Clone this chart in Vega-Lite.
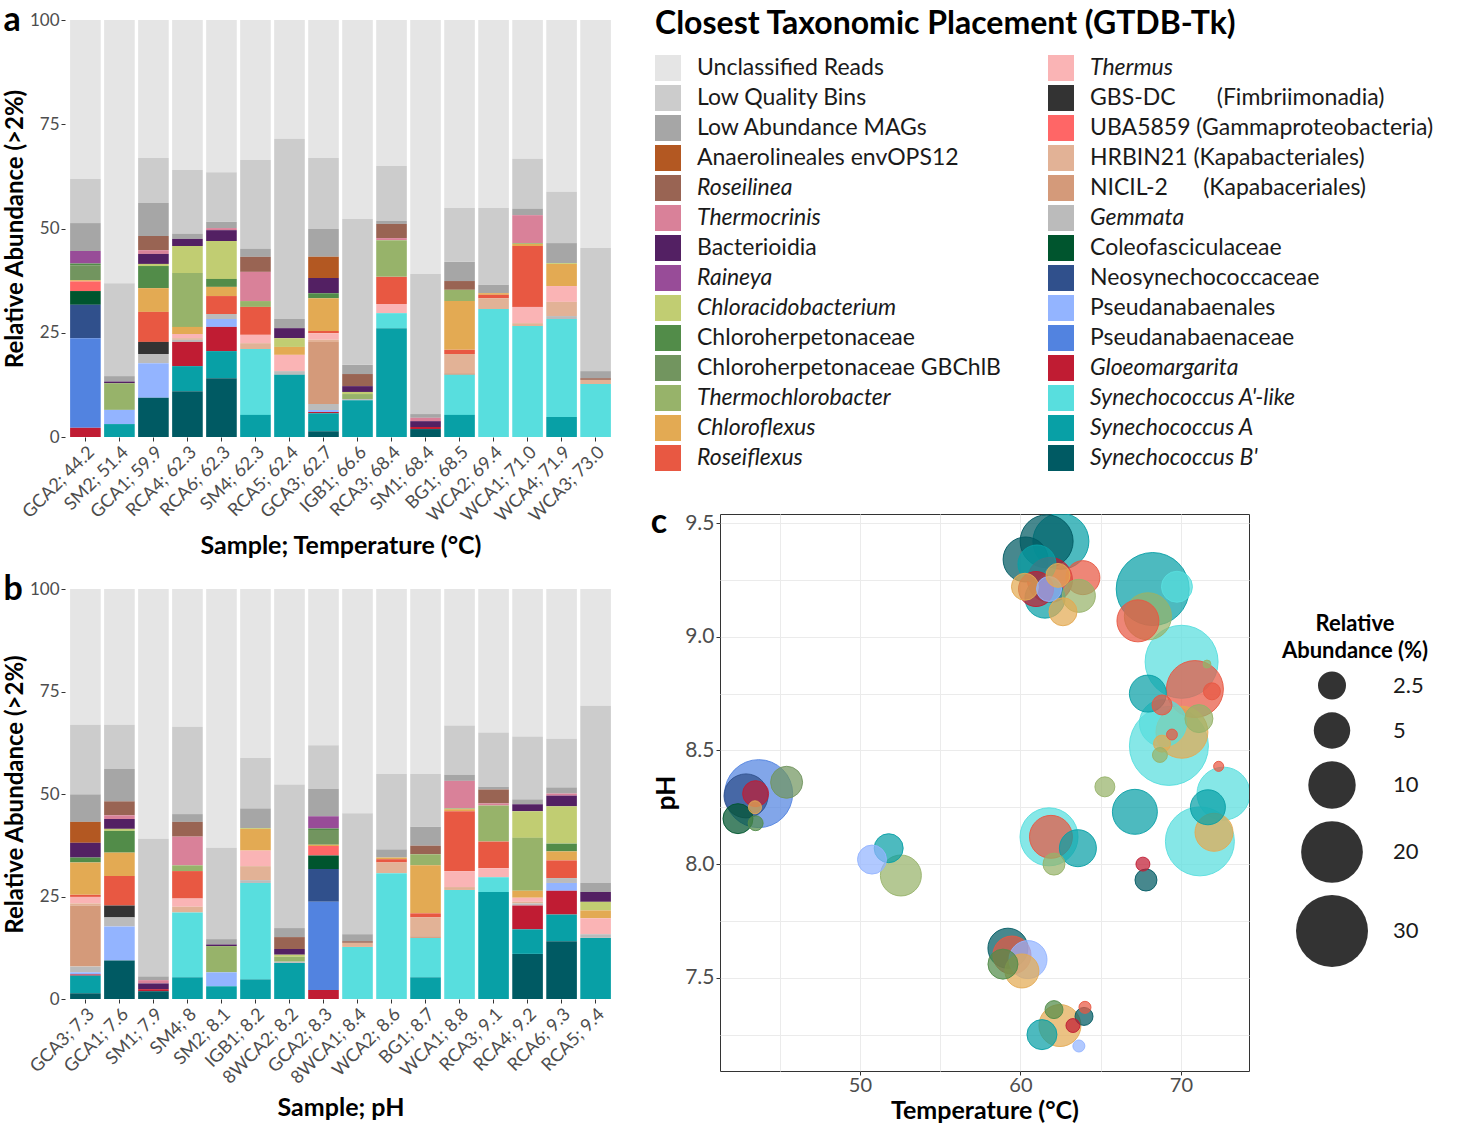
{
  "$schema": "https://vega.github.io/schema/vega-lite/v6.json",
  "padding": {"left": 3, "top": 4, "right": 5, "bottom": 0},
  "background": "white",
  "config": {
    "font": "Lato",
    "view": {"stroke": null},
    "axis": {"labelColor": "#4d4d4d", "tickColor": "#333333", "domain": false, "grid": false, "titleFontWeight": "bold", "titleColor": "#000000", "labelFont": "Lato", "titleFont": "Lato"},
    "title": {"font": "Lato", "color": "#000000"},
    "legend": {"titleFont": "Lato", "labelFont": "Lato"}
  },
  "datasets": {
    "taxa": [
      {"c": "UN", "t": "Unclassified Reads", "k": 1},
      {"c": "LQ", "t": "Low Quality Bins", "k": 2},
      {"c": "LA", "t": "Low Abundance MAGs", "k": 3},
      {"c": "AN", "t": "Anaerolineales envOPS12", "k": 4},
      {"c": "RL", "t": "Roseilinea", "k": 5},
      {"c": "TC", "t": "Thermocrinis", "k": 6},
      {"c": "BA", "t": "Bacterioidia", "k": 7},
      {"c": "RA", "t": "Raineya", "k": 8},
      {"c": "CA", "t": "Chloracidobacterium", "k": 9},
      {"c": "CH", "t": "Chloroherpetonaceae", "k": 10},
      {"c": "CG", "t": "Chloroherpetonaceae GBChlB", "k": 11},
      {"c": "TB", "t": "Thermochlorobacter", "k": 12},
      {"c": "CF", "t": "Chloroflexus", "k": 13},
      {"c": "RF", "t": "Roseiflexus", "k": 14},
      {"c": "TH", "t": "Thermus", "k": 15},
      {"c": "GB", "t": "GBS-DC\u00a0\u00a0\u00a0\u00a0\u00a0\u00a0\u00a0(Fimbriimonadia)", "k": 16},
      {"c": "UB", "t": "UBA5859 (Gammaproteobacteria)", "k": 17},
      {"c": "HR", "t": "HRBIN21 (Kapabacteriales)", "k": 18},
      {"c": "NI", "t": "NICIL-2\u00a0\u00a0\u00a0\u00a0\u00a0\u00a0(Kapabaceriales)", "k": 19},
      {"c": "GE", "t": "Gemmata", "k": 20},
      {"c": "CO", "t": "Coleofasciculaceae", "k": 21},
      {"c": "NE", "t": "Neosynechococcaceae", "k": 22},
      {"c": "PL", "t": "Pseudanabaenales", "k": 23},
      {"c": "PC", "t": "Pseudanabaenaceae", "k": 24},
      {"c": "GL", "t": "Gloeomargarita", "k": 25},
      {"c": "SAL", "t": "Synechococcus A'-like", "k": 26},
      {"c": "SA", "t": "Synechococcus A", "k": 27},
      {"c": "SB", "t": "Synechococcus B'", "k": 28}
    ],
    "samples": [
      {"a": "GCA2; 44.2", "b": "GCA2; 8.3", "GL": 2.2, "PC": 21.5, "NE": 8.0, "CO": 3.3, "UB": 2.3, "CF": 0.3, "CG": 3.6, "CH": 0.4, "RA": 3.0, "LA": 6.7, "LQ": 10.6, "UN": 38.1},
      {"a": "SM2; 51.4", "b": "SM2; 8.1", "SA": 3.1, "PL": 3.4, "TB": 6.4, "BA": 0.4, "LA": 1.3, "LQ": 22.3, "UN": 63.1},
      {"a": "GCA1; 59.9", "b": "GCA1; 7.6", "SB": 9.4, "PL": 8.3, "GE": 2.2, "GB": 2.9, "RF": 7.2, "CF": 5.7, "CH": 5.3, "CA": 0.5, "BA": 2.4, "TC": 0.9, "RL": 3.4, "LA": 7.9, "LQ": 10.8, "UN": 33.1},
      {"a": "RCA4; 62.3", "b": "RCA4; 9.2", "SB": 11.0, "SA": 6.0, "GL": 5.8, "GE": 0.5, "HR": 0.4, "TH": 1.0, "CF": 1.7, "TB": 12.9, "CA": 6.5, "BA": 1.7, "LA": 1.2, "LQ": 15.3, "UN": 36.0},
      {"a": "RCA6; 62.3", "b": "RCA6; 9.3", "SB": 14.1, "SA": 6.5, "GL": 5.8, "PL": 1.9, "GE": 1.2, "RF": 4.3, "CF": 2.2, "CH": 1.9, "CA": 9.1, "BA": 2.6, "TC": 0.5, "LA": 1.5, "LQ": 11.9, "UN": 36.5},
      {"a": "SM4; 62.3", "b": "SM4; 8", "SA": 5.3, "SAL": 15.8, "HR": 1.4, "TH": 2.0, "RF": 6.7, "TB": 1.4, "TC": 7.0, "RL": 3.6, "LA": 1.9, "LQ": 21.3, "UN": 33.6},
      {"a": "RCA5; 62.4", "b": "RCA5; 9.4", "SA": 14.9, "GE": 0.9, "TH": 3.9, "CF": 1.9, "CA": 2.1, "BA": 2.4, "LA": 2.2, "LQ": 43.2, "UN": 28.5},
      {"a": "GCA3; 62.7", "b": "GCA3; 7.3", "SB": 1.4, "SA": 4.3, "GL": 0.3, "PL": 0.5, "GE": 1.4, "NI": 14.9, "HR": 0.5, "TH": 1.6, "RF": 0.5, "CF": 7.9, "CH": 1.2, "BA": 3.6, "AN": 5.1, "LA": 6.7, "LQ": 17.0, "UN": 33.1},
      {"a": "IGB1; 66.6", "b": "8WCA2; 8.2", "SA": 8.8, "GE": 0.3, "TB": 1.2, "CA": 0.5, "BA": 1.4, "RL": 2.9, "LA": 2.2, "LQ": 35.0, "UN": 47.7},
      {"a": "RCA3; 68.4", "b": "RCA3; 9.1", "SA": 26.1, "SAL": 3.6, "TH": 2.2, "RF": 6.5, "TB": 8.8, "TC": 0.5, "RL": 3.4, "LA": 0.7, "LQ": 13.2, "UN": 35.0},
      {"a": "SM1; 68.4", "b": "SM1; 7.9", "SB": 1.9, "GL": 0.5, "BA": 1.4, "TC": 0.8, "LA": 0.9, "LQ": 33.6, "UN": 60.9},
      {"a": "BG1; 68.5", "b": "BG1; 8.7", "SA": 5.3, "SAL": 9.6, "NI": 0.4, "HR": 4.6, "RF": 1.0, "CF": 11.7, "TB": 2.7, "RL": 2.1, "LA": 4.6, "LQ": 12.9, "UN": 45.1},
      {"a": "WCA2; 69.4", "b": "WCA2; 8.6", "SAL": 30.7, "HR": 2.6, "RF": 0.8, "CF": 0.4, "LA": 2.0, "LQ": 18.4, "UN": 45.1},
      {"a": "WCA1; 71.0", "b": "WCA1; 8.8", "SAL": 26.6, "HR": 0.7, "TH": 3.9, "RF": 14.6, "CF": 0.5, "TB": 0.2, "TC": 6.7, "LA": 1.5, "LQ": 12.0, "UN": 33.3},
      {"a": "WCA4; 71.9", "b": "IGB1; 8.2", "SA": 4.8, "SAL": 23.5, "GE": 0.7, "HR": 3.4, "TH": 3.8, "CF": 5.3, "CA": 0.2, "LA": 4.8, "LQ": 12.3, "UN": 41.2},
      {"a": "WCA3; 73.0", "b": "8WCA1; 8.4", "SAL": 12.7, "HR": 1.0, "RL": 0.4, "LA": 1.7, "LQ": 29.5, "UN": 54.7}
    ],
    "bubbles": [
      {"T": 62.52, "pH": 9.42, "c": "SA", "v": 15.5},
      {"T": 61.63, "pH": 9.42, "c": "SB", "v": 13.4},
      {"T": 60.32, "pH": 9.34, "c": "SB", "v": 8.7},
      {"T": 61.03, "pH": 9.32, "c": "SA", "v": 5.6},
      {"T": 61.53, "pH": 9.17, "c": "SA", "v": 6.4},
      {"T": 61.84, "pH": 9.25, "c": "GL", "v": 8.7},
      {"T": 60.97, "pH": 9.21, "c": "GL", "v": 4.5},
      {"T": 61.78, "pH": 9.21, "c": "PL", "v": 1.85},
      {"T": 60.28, "pH": 9.22, "c": "CF", "v": 2.27},
      {"T": 62.34, "pH": 9.27, "c": "CF", "v": 1.66},
      {"T": 63.64, "pH": 9.18, "c": "TB", "v": 3.85},
      {"T": 63.89, "pH": 9.26, "c": "RF", "v": 4.17},
      {"T": 62.65, "pH": 9.11, "c": "CF", "v": 2.5},
      {"T": 68.24, "pH": 9.21, "c": "SA", "v": 31.1},
      {"T": 69.75, "pH": 9.22, "c": "SAL", "v": 3.26},
      {"T": 67.94, "pH": 9.09, "c": "TB", "v": 9.8},
      {"T": 67.32, "pH": 9.07, "c": "RF", "v": 7.26},
      {"T": 70.04, "pH": 8.89, "c": "SAL", "v": 31.1},
      {"T": 70.87, "pH": 8.77, "c": "RF", "v": 16.2},
      {"T": 71.62, "pH": 8.88, "c": "TB", "v": 0.09},
      {"T": 71.93, "pH": 8.76, "c": "RF", "v": 0.67},
      {"T": 67.94, "pH": 8.75, "c": "SA", "v": 5.2},
      {"T": 68.82, "pH": 8.70, "c": "RF", "v": 1.03},
      {"T": 68.88, "pH": 8.62, "c": "SAL", "v": 9.8},
      {"T": 69.25, "pH": 8.52, "c": "SAL", "v": 38.3},
      {"T": 70.06, "pH": 8.58, "c": "CF", "v": 12.7},
      {"T": 71.12, "pH": 8.64, "c": "TB", "v": 2.5},
      {"T": 69.44, "pH": 8.57, "c": "RF", "v": 0.21},
      {"T": 68.82, "pH": 8.53, "c": "CF", "v": 0.67},
      {"T": 68.69, "pH": 8.48, "c": "TB", "v": 0.48},
      {"T": 72.35, "pH": 8.43, "c": "RF", "v": 0.17},
      {"T": 65.26, "pH": 8.34, "c": "TB", "v": 1.03},
      {"T": 67.13, "pH": 8.23, "c": "SA", "v": 8.7},
      {"T": 72.65, "pH": 8.31, "c": "SAL", "v": 13.4},
      {"T": 71.68, "pH": 8.25, "c": "SA", "v": 4.5},
      {"T": 71.18, "pH": 8.10, "c": "SAL", "v": 26.8},
      {"T": 72.06, "pH": 8.14, "c": "CF", "v": 5.58},
      {"T": 67.63, "pH": 8.00, "c": "GL", "v": 0.40},
      {"T": 67.82, "pH": 7.93, "c": "SB", "v": 1.32},
      {"T": 43.69, "pH": 8.31, "c": "PC", "v": 25.8},
      {"T": 45.43, "pH": 8.36, "c": "CG", "v": 3.55},
      {"T": 42.90, "pH": 8.30, "c": "NE", "v": 8.2},
      {"T": 43.50, "pH": 8.31, "c": "GL", "v": 2.05},
      {"T": 43.46, "pH": 8.25, "c": "CF", "v": 0.33},
      {"T": 42.40, "pH": 8.20, "c": "CO", "v": 3.0},
      {"T": 43.50, "pH": 8.18, "c": "CH", "v": 0.48},
      {"T": 51.79, "pH": 8.07, "c": "SA", "v": 2.74},
      {"T": 50.75, "pH": 8.02, "c": "PL", "v": 2.74},
      {"T": 52.55, "pH": 7.95, "c": "TB", "v": 6.8},
      {"T": 61.78, "pH": 8.12, "c": "SAL", "v": 17.0},
      {"T": 61.90, "pH": 8.12, "c": "RF", "v": 7.7},
      {"T": 63.58, "pH": 8.07, "c": "SA", "v": 5.2},
      {"T": 62.09, "pH": 8.00, "c": "TB", "v": 1.32},
      {"T": 59.22, "pH": 7.63, "c": "SB", "v": 6.4},
      {"T": 58.91, "pH": 7.56, "c": "CH", "v": 3.0},
      {"T": 59.47, "pH": 7.60, "c": "RF", "v": 5.58},
      {"T": 60.47, "pH": 7.58, "c": "PL", "v": 5.58},
      {"T": 60.09, "pH": 7.53, "c": "CF", "v": 4.17},
      {"T": 62.09, "pH": 7.36, "c": "CH", "v": 0.78},
      {"T": 61.34, "pH": 7.25, "c": "SA", "v": 3.0},
      {"T": 62.46, "pH": 7.29, "c": "CF", "v": 7.26},
      {"T": 63.27, "pH": 7.29, "c": "GL", "v": 0.40},
      {"T": 63.96, "pH": 7.33, "c": "SB", "v": 0.78},
      {"T": 64.02, "pH": 7.37, "c": "RF", "v": 0.27},
      {"T": 63.64, "pH": 7.20, "c": "PL", "v": 0.27}
    ],
    "none": []
  },
  "spacing": 34,
  "resolve": {"legend": {"color": "independent", "size": "independent"}},
  "hconcat": [
    {
      "spacing": 14,
      "vconcat": [
        {
          "width": 551,
          "height": 417,
          "title": {"text": "a", "anchor": "start", "fontSize": 34, "fontWeight": "bold", "offset": 0, "dy": 54, "dx": 0, "baseline": "alphabetic"},
          "data": {"name": "samples"},
          "transform": [
            {"fold": ["UN", "LQ", "LA", "AN", "RL", "TC", "BA", "RA", "CA", "CH", "CG", "TB", "CF", "RF", "TH", "GB", "UB", "HR", "NI", "GE", "CO", "NE", "PL", "PC", "GL", "SAL", "SA", "SB"], "as": ["c", "v"]},
            {"filter": "datum.v > 0"},
            {"lookup": "c", "from": {"data": {"name": "taxa"}, "key": "c", "fields": ["t", "k"]}}
          ],
          "mark": {"type": "bar"},
          "encoding": {
            "x": {"field": "a", "type": "nominal", "sort": ["GCA2; 44.2", "SM2; 51.4", "GCA1; 59.9", "RCA4; 62.3", "RCA6; 62.3", "SM4; 62.3", "RCA5; 62.4", "GCA3; 62.7", "IGB1; 66.6", "RCA3; 68.4", "SM1; 68.4", "BG1; 68.5", "WCA2; 69.4", "WCA1; 71.0", "WCA4; 71.9", "WCA3; 73.0"],
              "scale": {"paddingInner": 0.1, "paddingOuter": 0.15},
              "axis": {"title": "Sample; Temperature (°C)", "labelAngle": -45, "labelFontSize": 18, "titleFontSize": 25, "tickSize": 4, "labelPadding": 2, "titlePadding": 8}},
            "y": {"field": "v", "type": "quantitative", "stack": "zero", "scale": {"domain": [0, 100], "nice": false},
              "axis": {"title": "Relative Abundance (>2%)", "values": [0, 25, 50, 75, 100], "labelFontSize": 17, "titleFontSize": 24, "tickSize": 4, "labelPadding": 2, "titlePadding": 2}},
            "color": {"field": "t", "type": "nominal", "legend": null,
              "scale": {"domain": ["Unclassified Reads", "Low Quality Bins", "Low Abundance MAGs", "Anaerolineales envOPS12", "Roseilinea", "Thermocrinis", "Bacterioidia", "Raineya", "Chloracidobacterium", "Chloroherpetonaceae", "Chloroherpetonaceae GBChlB", "Thermochlorobacter", "Chloroflexus", "Roseiflexus", "Thermus", "GBS-DC\u00a0\u00a0\u00a0\u00a0\u00a0\u00a0\u00a0(Fimbriimonadia)", "UBA5859 (Gammaproteobacteria)", "HRBIN21 (Kapabacteriales)", "NICIL-2\u00a0\u00a0\u00a0\u00a0\u00a0\u00a0(Kapabaceriales)", "Gemmata", "Coleofasciculaceae", "Neosynechococcaceae", "Pseudanabaenales", "Pseudanabaenaceae", "Gloeomargarita", "Synechococcus A'-like", "Synechococcus A", "Synechococcus B'"],
                "range": ["#e5e5e5", "#cccccc", "#a6a6a6", "#b35822", "#996453", "#d98199", "#532063", "#984c98", "#c1cd72", "#528c49", "#72955f", "#97b36a", "#e3aa53", "#e85842", "#fab4b5", "#333333", "#ff6666", "#e2b296", "#d49a7a", "#bbbbbb", "#00552e", "#30508c", "#93b4ff", "#5283e0", "#c01c33", "#58dede", "#08a0a6", "#005a63"]}},
            "order": {"field": "k", "type": "quantitative", "sort": "descending"}
          }
        },
        {
          "width": 551,
          "height": 410,
          "title": {"text": "b", "anchor": "start", "fontSize": 34, "fontWeight": "bold", "offset": 0, "dy": 54, "dx": 0, "baseline": "alphabetic"},
          "data": {"name": "samples"},
          "transform": [
            {"fold": ["UN", "LQ", "LA", "AN", "RL", "TC", "BA", "RA", "CA", "CH", "CG", "TB", "CF", "RF", "TH", "GB", "UB", "HR", "NI", "GE", "CO", "NE", "PL", "PC", "GL", "SAL", "SA", "SB"], "as": ["c", "v"]},
            {"filter": "datum.v > 0"},
            {"lookup": "c", "from": {"data": {"name": "taxa"}, "key": "c", "fields": ["t", "k"]}}
          ],
          "mark": {"type": "bar"},
          "encoding": {
            "x": {"field": "b", "type": "nominal", "sort": ["GCA3; 7.3", "GCA1; 7.6", "SM1; 7.9", "SM4; 8", "SM2; 8.1", "IGB1; 8.2", "8WCA2; 8.2", "GCA2; 8.3", "8WCA1; 8.4", "WCA2; 8.6", "BG1; 8.7", "WCA1; 8.8", "RCA3; 9.1", "RCA4; 9.2", "RCA6; 9.3", "RCA5; 9.4"],
              "scale": {"paddingInner": 0.1, "paddingOuter": 0.15},
              "axis": {"title": "Sample; pH", "labelAngle": -45, "labelFontSize": 18, "titleFontSize": 25, "tickSize": 4, "labelPadding": 2, "titlePadding": 8}},
            "y": {"field": "v", "type": "quantitative", "stack": "zero", "scale": {"domain": [0, 100], "nice": false},
              "axis": {"title": "Relative Abundance (>2%)", "values": [0, 25, 50, 75, 100], "labelFontSize": 17, "titleFontSize": 24, "tickSize": 4, "labelPadding": 2, "titlePadding": 2}},
            "color": {"field": "t", "type": "nominal", "legend": null,
              "scale": {"domain": ["Unclassified Reads", "Low Quality Bins", "Low Abundance MAGs", "Anaerolineales envOPS12", "Roseilinea", "Thermocrinis", "Bacterioidia", "Raineya", "Chloracidobacterium", "Chloroherpetonaceae", "Chloroherpetonaceae GBChlB", "Thermochlorobacter", "Chloroflexus", "Roseiflexus", "Thermus", "GBS-DC\u00a0\u00a0\u00a0\u00a0\u00a0\u00a0\u00a0(Fimbriimonadia)", "UBA5859 (Gammaproteobacteria)", "HRBIN21 (Kapabacteriales)", "NICIL-2\u00a0\u00a0\u00a0\u00a0\u00a0\u00a0(Kapabaceriales)", "Gemmata", "Coleofasciculaceae", "Neosynechococcaceae", "Pseudanabaenales", "Pseudanabaenaceae", "Gloeomargarita", "Synechococcus A'-like", "Synechococcus A", "Synechococcus B'"],
                "range": ["#e5e5e5", "#cccccc", "#a6a6a6", "#b35822", "#996453", "#d98199", "#532063", "#984c98", "#c1cd72", "#528c49", "#72955f", "#97b36a", "#e3aa53", "#e85842", "#fab4b5", "#333333", "#ff6666", "#e2b296", "#d49a7a", "#bbbbbb", "#00552e", "#30508c", "#93b4ff", "#5283e0", "#c01c33", "#58dede", "#08a0a6", "#005a63"]}},
            "order": {"field": "k", "type": "quantitative", "sort": "descending"}
          }
        }
      ]
    },
    {
      "spacing": 0,
      "resolve": {"legend": {"color": "independent", "size": "independent"}},
      "vconcat": [
        {
          "width": 1,
          "height": 485,
          "data": {"name": "none"},
          "mark": {"type": "square"},
          "encoding": {
            "color": {"field": "t", "type": "nominal",
              "scale": {"domain": ["Unclassified Reads", "Low Quality Bins", "Low Abundance MAGs", "Anaerolineales envOPS12", "Roseilinea", "Thermocrinis", "Bacterioidia", "Raineya", "Chloracidobacterium", "Chloroherpetonaceae", "Chloroherpetonaceae GBChlB", "Thermochlorobacter", "Chloroflexus", "Roseiflexus", "Thermus", "GBS-DC\u00a0\u00a0\u00a0\u00a0\u00a0\u00a0\u00a0(Fimbriimonadia)", "UBA5859 (Gammaproteobacteria)", "HRBIN21 (Kapabacteriales)", "NICIL-2\u00a0\u00a0\u00a0\u00a0\u00a0\u00a0(Kapabaceriales)", "Gemmata", "Coleofasciculaceae", "Neosynechococcaceae", "Pseudanabaenales", "Pseudanabaenaceae", "Gloeomargarita", "Synechococcus A'-like", "Synechococcus A", "Synechococcus B'"],
                "range": ["#e5e5e5", "#cccccc", "#a6a6a6", "#b35822", "#996453", "#d98199", "#532063", "#984c98", "#c1cd72", "#528c49", "#72955f", "#97b36a", "#e3aa53", "#e85842", "#fab4b5", "#333333", "#ff6666", "#e2b296", "#d49a7a", "#bbbbbb", "#00552e", "#30508c", "#93b4ff", "#5283e0", "#c01c33", "#58dede", "#08a0a6", "#005a63"]},
              "legend": {"orient": "none", "legendX": -65, "legendY": -11, "padding": 0,
                "title": "Closest Taxonomic Placement (GTDB-Tk)", "titleFontSize": 32, "titleFontWeight": "bold", "titleColor": "#000000", "titlePadding": 14, "titleLimit": 1000,
                "columns": 2, "columnPadding": 47, "rowPadding": 4,
                "symbolType": "square", "symbolSize": 676, "symbolStrokeWidth": 0, "symbolOpacity": 1,
                "labelFontSize": 23, "labelOffset": 16, "labelLimit": 600, "labelColor": "#1a1a1a",
                "labelFontStyle": {"expr": "test(/^(Rosei|Thermoc|Thermus|Raineya|Chloracido|Chloroflexus|Gemmata|Gloeo|Synecho)/, datum.value) ? 'italic' : 'normal'"}}}
          }
        },
        {
          "width": 529,
          "height": 557,
          "view": {"stroke": "#333333", "strokeWidth": 1},
          "title": {"text": "c", "anchor": "start", "fontSize": 34, "fontWeight": "bold", "offset": 0, "dy": 55, "dx": -3, "baseline": "alphabetic"},
          "data": {"name": "bubbles"},
          "transform": [
            {"lookup": "c", "from": {"data": {"name": "taxa"}, "key": "c", "fields": ["t"]}}
          ],
          "mark": {"type": "point", "filled": true, "fillOpacity": 0.72, "strokeOpacity": 0.9, "strokeWidth": 1, "opacity": 1, "clip": true},
          "encoding": {
            "x": {"field": "T", "type": "quantitative", "scale": {"domain": [41.28, 74.24], "nice": false, "zero": false},
              "axis": {"title": "Temperature (°C)", "values": [45, 50, 55, 60, 65, 70], "labelExpr": "datum.value % 10 == 0 ? datum.label : ''", "labelOverlap": false, "grid": true, "gridColor": "#ebebeb", "tickSize": 4, "tickOpacity": {"condition": {"test": "datum.value % 10 != 0", "value": 0}, "value": 1}, "labelFontSize": 20, "titleFontSize": 25, "labelPadding": 0, "titlePadding": 3}},
            "y": {"field": "pH", "type": "quantitative", "scale": {"domain": [7.09, 9.54], "nice": false, "zero": false},
              "axis": {"title": "pH", "values": [7.25, 7.5, 7.75, 8, 8.25, 8.5, 8.75, 9, 9.25, 9.5], "labelExpr": "abs(datum.value * 2 - round(datum.value * 2)) < 0.01 ? format(datum.value, '.1f') : ''", "labelOverlap": false, "grid": true, "gridColor": "#ebebeb", "tickSize": 4, "tickOpacity": {"condition": {"test": "abs(datum.value * 2 - round(datum.value * 2)) > 0.01", "value": 0}, "value": 1}, "labelFontSize": 21, "titleFontSize": 26, "labelPadding": 2, "titlePadding": 5}},
            "size": {"field": "v", "type": "quantitative", "scale": {"type": "pow", "exponent": 0.76, "domain": [0, 30], "range": [0, 5184]},
              "legend": {"orient": "none", "legendX": 562, "legendY": 100, "title": ["Relative", "Abundance (%)"], "titleFontSize": 22, "titleLineHeight": 27, "titleFontWeight": "bold", "titleColor": "#000000", "titleAlign": "center", "titleAnchor": "middle", "titlePadding": 8, "values": [2.5, 5, 10, 20, 30], "format": "~g", "labelFontSize": 22, "labelColor": "#1a1a1a", "symbolType": "circle", "symbolFillColor": "#333333", "symbolStrokeColor": "#333333", "symbolOpacity": 1, "symbolStrokeWidth": 0, "rowPadding": 12, "labelOffset": 25, "symbolOffset": 9, "padding": 0}},
            "color": {"field": "t", "type": "nominal", "legend": null,
              "scale": {"domain": ["Unclassified Reads", "Low Quality Bins", "Low Abundance MAGs", "Anaerolineales envOPS12", "Roseilinea", "Thermocrinis", "Bacterioidia", "Raineya", "Chloracidobacterium", "Chloroherpetonaceae", "Chloroherpetonaceae GBChlB", "Thermochlorobacter", "Chloroflexus", "Roseiflexus", "Thermus", "GBS-DC\u00a0\u00a0\u00a0\u00a0\u00a0\u00a0\u00a0(Fimbriimonadia)", "UBA5859 (Gammaproteobacteria)", "HRBIN21 (Kapabacteriales)", "NICIL-2\u00a0\u00a0\u00a0\u00a0\u00a0\u00a0(Kapabaceriales)", "Gemmata", "Coleofasciculaceae", "Neosynechococcaceae", "Pseudanabaenales", "Pseudanabaenaceae", "Gloeomargarita", "Synechococcus A'-like", "Synechococcus A", "Synechococcus B'"],
                "range": ["#e5e5e5", "#cccccc", "#a6a6a6", "#b35822", "#996453", "#d98199", "#532063", "#984c98", "#c1cd72", "#528c49", "#72955f", "#97b36a", "#e3aa53", "#e85842", "#fab4b5", "#333333", "#ff6666", "#e2b296", "#d49a7a", "#bbbbbb", "#00552e", "#30508c", "#93b4ff", "#5283e0", "#c01c33", "#58dede", "#08a0a6", "#005a63"]}},
            "stroke": {"field": "t", "type": "nominal", "legend": null,
              "scale": {"domain": ["Unclassified Reads", "Low Quality Bins", "Low Abundance MAGs", "Anaerolineales envOPS12", "Roseilinea", "Thermocrinis", "Bacterioidia", "Raineya", "Chloracidobacterium", "Chloroherpetonaceae", "Chloroherpetonaceae GBChlB", "Thermochlorobacter", "Chloroflexus", "Roseiflexus", "Thermus", "GBS-DC\u00a0\u00a0\u00a0\u00a0\u00a0\u00a0\u00a0(Fimbriimonadia)", "UBA5859 (Gammaproteobacteria)", "HRBIN21 (Kapabacteriales)", "NICIL-2\u00a0\u00a0\u00a0\u00a0\u00a0\u00a0(Kapabaceriales)", "Gemmata", "Coleofasciculaceae", "Neosynechococcaceae", "Pseudanabaenales", "Pseudanabaenaceae", "Gloeomargarita", "Synechococcus A'-like", "Synechococcus A", "Synechococcus B'"],
                "range": ["#e5e5e5", "#cccccc", "#a6a6a6", "#b35822", "#996453", "#d98199", "#532063", "#984c98", "#c1cd72", "#528c49", "#72955f", "#97b36a", "#e3aa53", "#e85842", "#fab4b5", "#333333", "#ff6666", "#e2b296", "#d49a7a", "#bbbbbb", "#00552e", "#30508c", "#93b4ff", "#5283e0", "#c01c33", "#58dede", "#08a0a6", "#005a63"]}},
            "order": {"field": "v", "type": "quantitative", "sort": "descending"}
          }
        }
      ]
    }
  ]
}
